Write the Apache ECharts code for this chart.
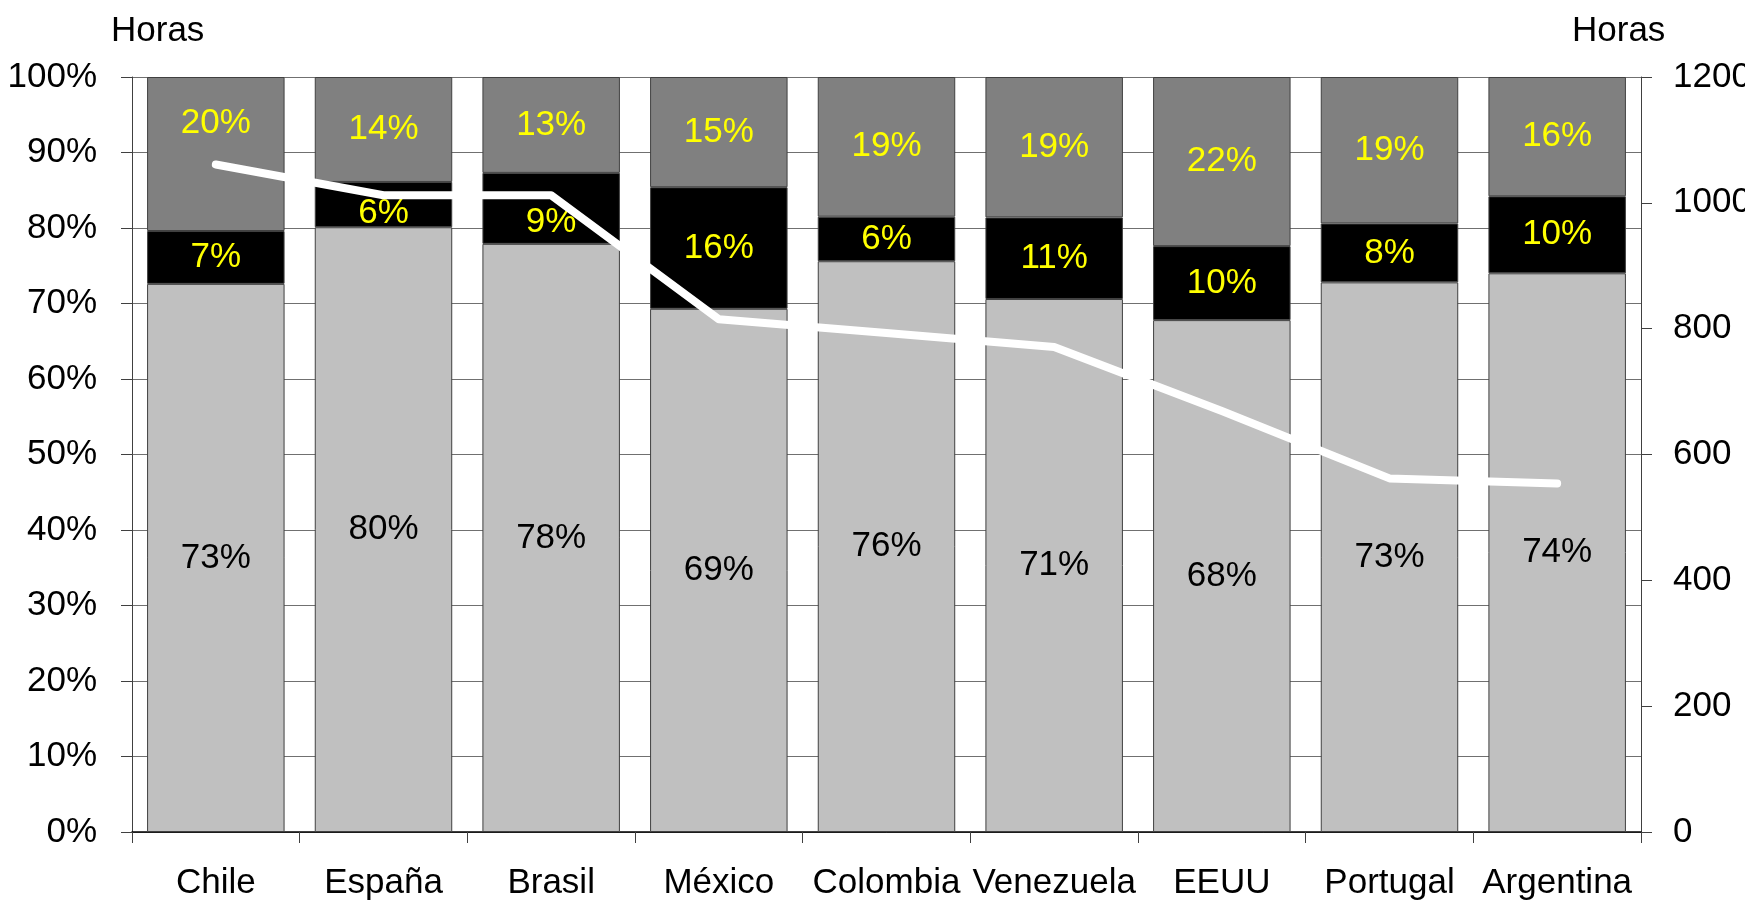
<!DOCTYPE html>
<html>
<head>
<meta charset="utf-8">
<title>Horas</title>
<script src="https://cdn.jsdelivr.net/npm/echarts@6/dist/echarts.min.js"></script>
<style>
  html, body { margin: 0; padding: 0; background: #fff; }
  #chart { width: 1745px; height: 904px; }
</style>
</head>
<body>
<div id="chart"></div>
<script>
// datos
const paises = ['Chile', 'España', 'Brasil', 'México', 'Colombia', 'Venezuela', 'EEUU', 'Portugal', 'Argentina']
const parteBaja = [72.6, 80.1, 77.9, 69.3, 75.6, 70.6, 67.8, 72.8, 74.0]
const parteMedia = [7.0, 6.0, 9.4, 16.1, 5.9, 10.8, 9.8, 7.8, 10.2]
const parteAlta = [20.4, 13.9, 12.7, 14.6, 18.5, 18.6, 22.4, 19.4, 15.8]
const horas = [1061, 1012, 1012, 815, 793, 771, 669, 562, 554]

// etiquetas movidas a mano en el original para no chocar con la linea
const ajusteAlta = { 0: [0, -31] }
const ajusteMedia = { 1: [0, 9], 2: [0, 14] }

const fuente = 'Liberation Sans, Arial, sans-serif'

function armar (valores, ajustes) {
  return valores.map(function (v, i) {
    const item = { value: v }
    if (ajustes && ajustes[i]) {
      item.label = { offset: ajustes[i] }
    }
    return item
  })
}

function serieBarra (nombre, valores, color, colorTexto, ajustes) {
  return {
    name: nombre,
    type: 'bar',
    stack: 'total',
    barCategoryGap: '18%',
    itemStyle: {
      color: color,
      borderColor: '#404040',
      borderWidth: 1
    },
    label: {
      show: true,
      position: 'inside',
      color: colorTexto,
      fontFamily: fuente,
      fontSize: 35,
      formatter: function (p) { return Math.round(p.value) + '%' }
    },
    data: armar(valores, ajustes)
  }
}

const chart = echarts.init(document.getElementById('chart'))
chart.setOption({
  animation: false,
  backgroundColor: '#fff',
  textStyle: { fontFamily: fuente },
  grid: {
    left: 132,
    right: 104,
    top: 77,
    bottom: 72,
    outerBoundsMode: 'none'
  },
  graphic: [
    {
      type: 'text',
      left: 111,
      top: 14,
      style: { text: 'Horas', fontSize: 35, fontFamily: fuente, fill: '#000' }
    },
    {
      type: 'text',
      left: 1572,
      top: 14,
      style: { text: 'Horas', fontSize: 35, fontFamily: fuente, fill: '#000' }
    }
  ],
  xAxis: {
    type: 'category',
    data: paises,
    axisLine: { lineStyle: { color: '#000', width: 1.5 } },
    axisTick: { show: true, length: 11, lineStyle: { color: '#404040' } },
    axisLabel: {
      color: '#000',
      fontSize: 35,
      fontFamily: fuente,
      margin: 34,
      interval: 0
    }
  },
  yAxis: [
    {
      type: 'value',
      min: 0,
      max: 100,
      interval: 10,
      axisLine: { show: true, lineStyle: { color: '#404040' } },
      axisTick: { show: true, length: 11, lineStyle: { color: '#404040' } },
      axisLabel: {
        color: '#000',
        fontSize: 35,
        fontFamily: fuente,
        margin: 35,
        formatter: '{value}%'
      },
      splitLine: { show: true, lineStyle: { color: '#707070', width: 1 } }
    },
    {
      type: 'value',
      min: 0,
      max: 1200,
      interval: 200,
      position: 'right',
      axisLine: { show: true, lineStyle: { color: '#404040' } },
      axisTick: { show: true, length: 11, lineStyle: { color: '#404040' } },
      axisLabel: {
        color: '#000',
        fontSize: 35,
        fontFamily: fuente,
        margin: 32,
        formatter: function (v) { return String(v) }
      },
      splitLine: { show: false }
    }
  ],
  series: [
    serieBarra('Baja', parteBaja, '#c0c0c0', '#000'),
    serieBarra('Media', parteMedia, '#000000', '#ffff00', ajusteMedia),
    serieBarra('Alta', parteAlta, '#808080', '#ffff00', ajusteAlta),
    {
      name: 'Horas',
      type: 'line',
      yAxisIndex: 1,
      data: horas,
      symbol: 'none',
      z: 5,
      lineStyle: { color: '#fff', width: 8, cap: 'round', join: 'round' }
    }
  ]
})
</script>
</body>
</html>
